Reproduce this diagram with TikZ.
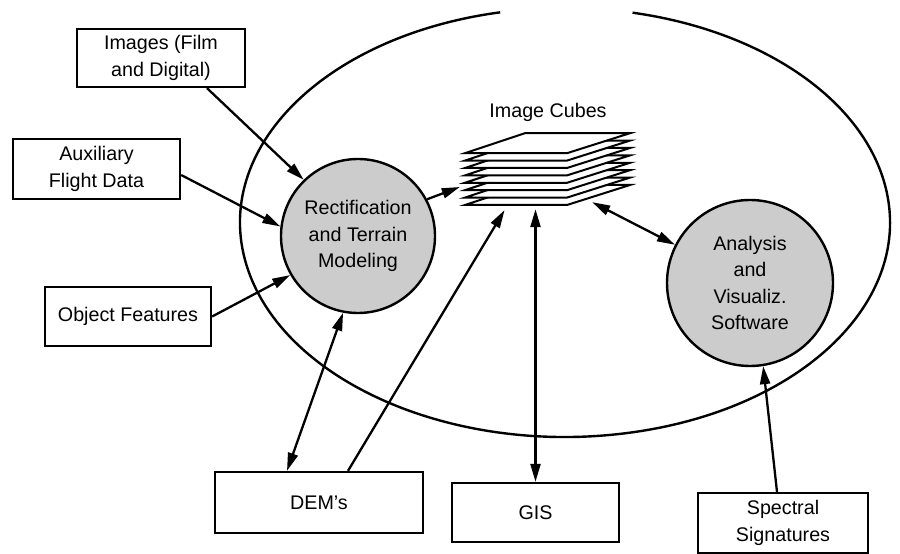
\documentclass[tikz,border=0pt]{standalone}
\usepackage{fontspec}
\setmainfont{Liberation Sans}
\usetikzlibrary{arrows.meta,calc}
\begin{document}
\begin{tikzpicture}[x=1pt,y=1pt,
  every node/.style={font=\fontsize{19.7}{26.5}\selectfont},
  box/.style={draw,line width=2.3pt,align=center,inner sep=0pt},
  circ/.style={circle,draw,line width=2.4pt,fill=black!20,minimum size=154pt,inner sep=0pt,align=center},
  tip/.tip={Triangle[length=18pt,width=10pt]},
  arr/.style={line width=2.3pt,-tip},
  darr/.style={line width=2.3pt,tip-tip},
  sheet/.style={fill=white,draw,line width=2pt,line join=miter}]
\useasboundingbox (0,0) rectangle (900,554);
% outer ellipse with gap at top
\draw[line width=2.4pt] (565,331.5) ++(101.5:325pt and 214.5pt)
  arc[start angle=101.5,end angle=438,x radius=325pt,y radius=214.5pt];
% boxes
\node[box,minimum width=168pt,minimum height=58pt] (img) at (161,496) {Images (Film\\and Digital)};
\node[box,minimum width=167pt,minimum height=60pt] (aux) at (96.5,385) {Auxiliary\\Flight Data};
\node[box,minimum width=166pt,minimum height=59pt] (obj) at (128,237.5) {Object Features};
\node[box,minimum width=208pt,minimum height=61pt] (dem) at (319,51.5) {DEM's};
\node[box,minimum width=167pt,minimum height=59pt] (gis) at (535.5,41.5) {GIS};
\node[box,minimum width=170pt,minimum height=60pt] (spec) at (783,31) {Spectral\\Signatures};
% circles
\node[circ] (rect) at (358,318) {Rectification\\and Terrain\\Modeling};
\node[circ,minimum size=166pt] (ana) at (750,271) {Analysis\\and\\Visualiz.\\Software};
% image cubes
\node[anchor=base] (lbl) at (548,436) {Image Cubes};
\node[inner sep=0pt,minimum width=165pt,minimum height=72pt] (cube) at (547.5,385) {};
\foreach \i in {0,...,7}{
  \pgfmathsetmacro\yy{349+\i*7.4}
  \draw[sheet] (465,\yy) -- (567,\yy) -- (630,\yy+20) -- (525,\yy+20) -- cycle;
}
% connectors
\draw[arr] ([xshift=46pt]img.south) -- (rect.134);
\draw[arr] ([yshift=-6pt]aux.east) -- (rect.173);
\draw[arr] (obj.east) -- (rect.210);
\draw[darr] (rect.259) -- ([xshift=-32pt]dem.north);
\draw[arr] ([xshift=29pt]dem.north) -- ([xshift=-43pt,yshift=-5pt]cube.south);
\draw[arr] (rect.28) -- ([xshift=-5pt,yshift=-18pt]cube.west);
\draw[darr] (gis.north) -- ($(gis.north |- cube.south)+(0,-4)$);
\draw[darr] ([xshift=-38pt,yshift=3pt]cube.south east) -- (ana.153);
\draw[arr] ([xshift=-6pt]spec.north) -- (ana.279);
\end{tikzpicture}
\end{document}
